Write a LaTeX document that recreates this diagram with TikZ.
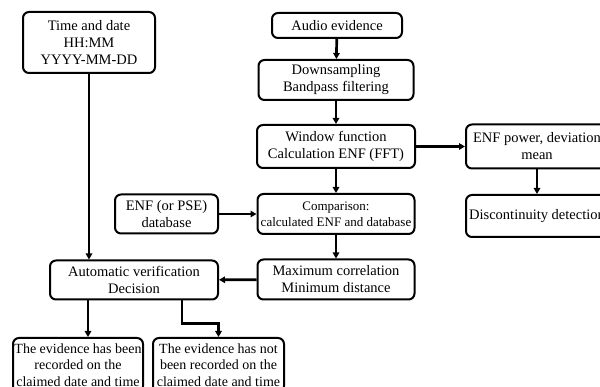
\documentclass[tikz,border=0pt]{standalone}
\usepackage{fontspec}
\setmainfont{Liberation Serif}
\usetikzlibrary{arrows.meta}
\begin{document}
\begin{tikzpicture}[x=1pt,y=-1pt,
  box/.style={draw, line width=2pt, rounded corners=6pt, align=center, inner sep=0pt,
    font=\fontsize{14.5}{17}\selectfont},
  arr/.style={line width=2.7pt, -{Triangle[length=6pt,width=6.5pt]}}]
\useasboundingbox (0,0) rectangle (600,387);
\clip (0,0) rectangle (600,387);
\fill[white] (0,0) rectangle (600,387);
\node[box, minimum width=132pt, minimum height=61pt] (time) at (89,42.5) {Time and date\\HH:MM\\YYYY-MM-DD};
\node[box, minimum width=130pt, minimum height=25pt] (audio) at (337,25.5) {Audio evidence};
\node[box, minimum width=155pt, minimum height=40pt] (down) at (336,80) {Downsampling\\Bandpass filtering};
\node[box, minimum width=158pt, minimum height=43pt] (win) at (336,146.5) {Window function\\Calculation ENF (FFT)};
\node[box, minimum width=157pt, minimum height=40pt, font=\fontsize{13}{16}\selectfont] (comp) at (336,214) {Comparison:\\calculated ENF and database};
\node[box, minimum width=157pt, minimum height=40pt] (maxc) at (336,279.5) {Maximum correlation\\Minimum distance};
\node[box, minimum width=103pt, minimum height=39pt] (db) at (166.5,214) {ENF (or PSE)\\database};
\node[box, minimum width=168pt, minimum height=39pt] (ver) at (134,280) {Automatic verification\\Decision};
\node[box, minimum width=142pt, minimum height=44pt] (pow) at (537,146.5) {ENF power, deviation\\mean};
\node[box, minimum width=142pt, minimum height=42pt] (disc) at (537,216) {Discontinuity detection};
\node[box, minimum width=130pt, minimum height=54pt, font=\fontsize{14}{16.5}\selectfont] (r1) at (78,365) {The evidence has been\\recorded on the\\claimed date and time};
\node[box, minimum width=131pt, minimum height=54pt, font=\fontsize{14}{16.5}\selectfont] (r2) at (218.5,365) {The evidence has not\\been recorded on the\\claimed date and time};
\draw[arr] (audio) -- (down);
\draw[arr] (down) -- (win);
\draw[arr] (win) -- (comp);
\draw[arr] (comp) -- (maxc);
\draw[arr] (win) -- (pow);
\draw[arr] (pow) -- (disc);
\draw[arr] (db) -- (comp);
\draw[arr] (maxc) -- (ver);
\draw[arr] (time.south) -- (time.south |- ver.north);
\draw[arr] ([xshift=-46pt]ver.south) -- ([xshift=-46pt]ver.south |- r1.north);
\draw[arr] ([xshift=48pt]ver.south) -- ++(0,23) -| (r2.north);
\end{tikzpicture}
\end{document}
